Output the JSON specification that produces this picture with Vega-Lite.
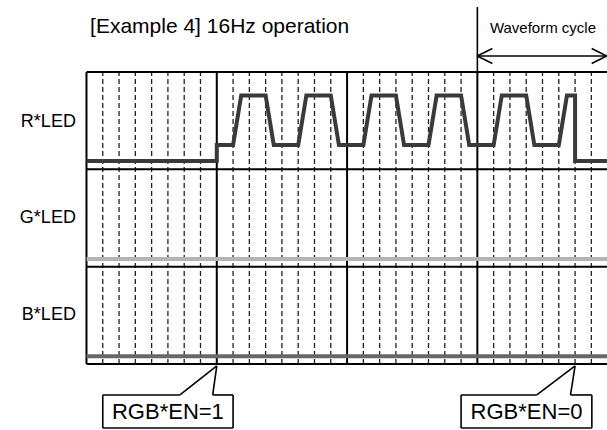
{
  "$schema": "https://vega.github.io/schema/vega-lite/v6.json",
  "width": 607,
  "height": 430,
  "autosize": {"type": "none"},
  "padding": 0,
  "background": "white",
  "config": {"view": {"stroke": null}, "font": "Liberation Sans"},
  "datasets": {
    "major": [{"t": 0}, {"t": 8}, {"t": 16}, {"t": 24}],
    "minor": [{"t": 1}, {"t": 2}, {"t": 3}, {"t": 4}, {"t": 5}, {"t": 6}, {"t": 7},
              {"t": 9}, {"t": 10}, {"t": 11}, {"t": 12}, {"t": 13}, {"t": 14}, {"t": 15},
              {"t": 17}, {"t": 18}, {"t": 19}, {"t": 20}, {"t": 21}, {"t": 22}, {"t": 23},
              {"t": 25}, {"t": 26}, {"t": 27}, {"t": 28}, {"t": 29}, {"t": 30}, {"t": 31}],
    "hlines": [{"y": 0}, {"y": 1}, {"y": 2}, {"y": 3}],
    "flat": [
      {"signal": "G*LED", "t0": 0, "t1": 32, "y": 1.08},
      {"signal": "B*LED", "t0": 0, "t1": 32, "y": 0.08}
    ],
    "wave": [
      {"i": 0, "t": 0, "y": 2.085}, {"i": 1, "t": 8, "y": 2.085}, {"i": 2, "t": 8, "y": 2.25},
      {"i": 3, "t": 9, "y": 2.25}, {"i": 4, "t": 9.5, "y": 2.76}, {"i": 5, "t": 11, "y": 2.76},
      {"i": 6, "t": 11.5, "y": 2.25}, {"i": 7, "t": 13, "y": 2.25}, {"i": 8, "t": 13.5, "y": 2.76},
      {"i": 9, "t": 15, "y": 2.76}, {"i": 10, "t": 15.5, "y": 2.25}, {"i": 11, "t": 17, "y": 2.25},
      {"i": 12, "t": 17.5, "y": 2.76}, {"i": 13, "t": 19, "y": 2.76}, {"i": 14, "t": 19.5, "y": 2.25},
      {"i": 15, "t": 21, "y": 2.25}, {"i": 16, "t": 21.5, "y": 2.76}, {"i": 17, "t": 23, "y": 2.76},
      {"i": 18, "t": 23.5, "y": 2.25}, {"i": 19, "t": 25, "y": 2.25}, {"i": 20, "t": 25.5, "y": 2.76},
      {"i": 21, "t": 27, "y": 2.76}, {"i": 22, "t": 27.5, "y": 2.25}, {"i": 23, "t": 29, "y": 2.25},
      {"i": 24, "t": 29.5, "y": 2.76}, {"i": 25, "t": 30, "y": 2.76}, {"i": 26, "t": 30, "y": 2.085},
      {"i": 27, "t": 32, "y": 2.085}
    ],
    "segs": [
      {"x": 24, "y": 3.0, "x2": 24, "y2": 3.668},
      {"x": 24, "y": 3.164, "x2": 31.94, "y2": 3.164},
      {"x": 24, "y": 3.164, "x2": 24.92, "y2": 3.241},
      {"x": 24, "y": 3.164, "x2": 24.92, "y2": 3.087},
      {"x": 31.94, "y": 3.164, "x2": 31.02, "y2": 3.241},
      {"x": 31.94, "y": 3.164, "x2": 31.02, "y2": 3.087},
      {"x": 1, "y": -0.318, "x2": 1, "y2": -0.658},
      {"x": 1, "y": -0.658, "x2": 9, "y2": -0.658},
      {"x": 9, "y": -0.658, "x2": 9, "y2": -0.318},
      {"x": 9, "y": -0.318, "x2": 7.75, "y2": -0.318},
      {"x": 7.75, "y": -0.318, "x2": 8, "y2": -0.02},
      {"x": 8, "y": -0.02, "x2": 5.74, "y2": -0.318},
      {"x": 5.74, "y": -0.318, "x2": 1, "y2": -0.318},
      {"x": 23, "y": -0.318, "x2": 23, "y2": -0.658},
      {"x": 23, "y": -0.658, "x2": 31.03, "y2": -0.658},
      {"x": 31.03, "y": -0.658, "x2": 31.03, "y2": -0.318},
      {"x": 31.03, "y": -0.318, "x2": 29.72, "y2": -0.318},
      {"x": 29.72, "y": -0.318, "x2": 30, "y2": -0.02},
      {"x": 30, "y": -0.02, "x2": 27.65, "y2": -0.318},
      {"x": 27.65, "y": -0.318, "x2": 23, "y2": -0.318}
    ],
    "rowlabels": [
      {"label": "R*LED", "t": -0.65, "y": 2.49},
      {"label": "G*LED", "t": -0.65, "y": 1.5},
      {"label": "B*LED", "t": -0.65, "y": 0.5}
    ],
    "title": [{"label": "[Example 4] 16Hz operation", "t": 0.22, "y": 3.462}],
    "cycle": [{"label": "Waveform cycle", "t": 24.77, "y": 3.452}],
    "callouts": [
      {"label": "RGB*EN=1", "t": 5.0, "y": -0.49},
      {"label": "RGB*EN=0", "t": 27.02, "y": -0.49}
    ]
  },
  "layer": [
    {
      "data": {"name": "minor"},
      "mark": {"type": "rule", "color": "#222222", "strokeWidth": 1.3, "strokeDash": [5, 3]},
      "encoding": {
        "x": {"field": "t", "type": "quantitative", "scale": {"domain": [-5.31, 31.96], "nice": false, "zero": false}, "axis": null},
        "y": {"datum": 0, "type": "quantitative", "scale": {"domain": [-0.678, 3.74], "nice": false, "zero": false}, "axis": null},
        "y2": {"datum": 3}
      }
    },
    {
      "data": {"name": "major"},
      "mark": {"type": "rule", "color": "black", "strokeWidth": 2},
      "encoding": {
        "x": {"field": "t", "type": "quantitative"},
        "y": {"datum": 0, "type": "quantitative"},
        "y2": {"datum": 3}
      }
    },
    {
      "data": {"name": "hlines"},
      "mark": {"type": "rule", "color": "black", "strokeWidth": 2},
      "encoding": {
        "x": {"datum": 0, "type": "quantitative"},
        "x2": {"datum": 32},
        "y": {"field": "y", "type": "quantitative"}
      }
    },
    {
      "data": {"name": "flat"},
      "mark": {"type": "rule", "strokeWidth": 4},
      "encoding": {
        "x": {"field": "t0", "type": "quantitative"},
        "x2": {"field": "t1"},
        "y": {"field": "y", "type": "quantitative"},
        "color": {"field": "signal", "type": "nominal", "scale": {"domain": ["G*LED", "B*LED"], "range": ["#b4b4b4", "#686868"]}, "legend": null}
      }
    },
    {
      "data": {"name": "wave"},
      "mark": {"type": "line", "color": "#3a3a3a", "strokeWidth": 4, "strokeJoin": "miter"},
      "encoding": {
        "x": {"field": "t", "type": "quantitative"},
        "y": {"field": "y", "type": "quantitative"},
        "order": {"field": "i", "type": "quantitative"}
      }
    },
    {
      "data": {"name": "segs"},
      "mark": {"type": "rule", "color": "black", "strokeWidth": 1.6},
      "encoding": {
        "x": {"field": "x", "type": "quantitative"},
        "y": {"field": "y", "type": "quantitative"},
        "x2": {"field": "x2"},
        "y2": {"field": "y2"}
      }
    },
    {
      "data": {"name": "rowlabels"},
      "mark": {"type": "text", "align": "right", "baseline": "middle", "fontSize": 18, "color": "black"},
      "encoding": {
        "x": {"field": "t", "type": "quantitative"},
        "y": {"field": "y", "type": "quantitative"},
        "text": {"field": "label"}
      }
    },
    {
      "data": {"name": "title"},
      "mark": {"type": "text", "align": "left", "baseline": "middle", "fontSize": 21, "color": "black"},
      "encoding": {
        "x": {"field": "t", "type": "quantitative"},
        "y": {"field": "y", "type": "quantitative"},
        "text": {"field": "label"}
      }
    },
    {
      "data": {"name": "cycle"},
      "mark": {"type": "text", "align": "left", "baseline": "middle", "fontSize": 15, "color": "black"},
      "encoding": {
        "x": {"field": "t", "type": "quantitative"},
        "y": {"field": "y", "type": "quantitative"},
        "text": {"field": "label"}
      }
    },
    {
      "data": {"name": "callouts"},
      "mark": {"type": "text", "align": "center", "baseline": "middle", "fontSize": 22, "color": "black"},
      "encoding": {
        "x": {"field": "t", "type": "quantitative"},
        "y": {"field": "y", "type": "quantitative"},
        "text": {"field": "label"}
      }
    }
  ]
}
